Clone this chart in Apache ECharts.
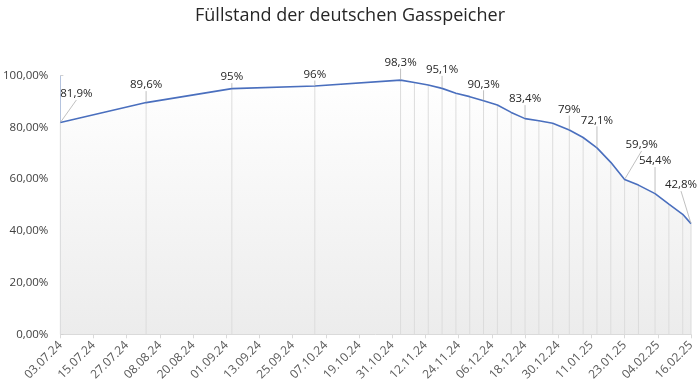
<!DOCTYPE html>
<html>
<head>
<meta charset="utf-8">
<script src="https://cdn.jsdelivr.net/npm/echarts@6/dist/echarts.min.js"></script>
<style>html,body{margin:0;padding:0;background:#fff}#c{width:700px;height:388px}</style>
</head>
<body>
<div id="c"></div>
<script>
// ---- data ----
const dates = ["03.07.24","03.08.24","03.09.24","03.10.24","03.11.24","08.11.24","13.11.24","18.11.24","23.11.24","28.11.24",
  "03.12.24","08.12.24","13.12.24","18.12.24","23.12.24","28.12.24","03.01.25","08.01.25","13.01.25","18.01.25",
  "23.01.25","28.01.25","03.02.25","08.02.25","13.02.25","16.02.25"];
const fillLevel = [81.9,89.6,95.0,96.0,98.3,97.4,96.4,95.1,93.2,91.9,
  90.3,88.7,85.8,83.4,82.6,81.6,79.0,76.1,72.1,66.5,
  59.9,57.7,54.4,50.3,46.4,42.8];
const labelledDates = ["03.07.24","03.08.24","03.09.24","03.10.24","03.11.24","18.11.24","03.12.24","18.12.24","03.01.25","13.01.25","23.01.25","03.02.25","16.02.25"];
const axisStart = "03.07.24";
const axisEnd = "16.02.25";
const yTicks = [0,20,40,60,80,100];
const titleText = "Füllstand der deutschen Gasspeicher";

// ---- layout/style (label displacement) ----
const labelShift = {
  "03.07.24":[16,-29], "03.08.24":[0,-18], "03.09.24":[0,-12], "03.10.24":[0,-12],
  "03.11.24":[0,-18], "18.11.24":[0,-19], "03.12.24":[0,-17], "18.12.24":[0,-20],
  "03.01.25":[0,-21], "13.01.25":[0,-28], "23.01.25":[17,-35], "03.02.25":[0,-33], "16.02.25":[-10,-39]
};

const DAY = 86400000;
function parseD(s){const p=s.split('.');return Date.UTC(2000+ +p[2], +p[1]-1, +p[0]);}
const t0 = parseD(axisStart);
const dayIdx = d => Math.round((parseD(d)-t0)/DAY);
function fmtDay(v){const d=new Date(t0+v*DAY);const pad=n=>String(n).padStart(2,'0');
  return pad(d.getUTCDate())+'.'+pad(d.getUTCMonth()+1)+'.'+String(d.getUTCFullYear()).slice(2);}
const pts = dates.map((d,i)=>[dayIdx(d), fillLevel[i]]);
const fmtPct = v => (Number.isInteger(v)? String(v) : String(v).replace('.',','))+'%';

const chart = echarts.init(document.getElementById('c'), null, {renderer:'canvas'});
const FONT = 'Open Sans';
chart.setOption({
  animation:false,
  backgroundColor:'#ffffff',
  title:{text:titleText,left:'center',top:2,textStyle:{fontFamily:FONT,fontSize:18,fontWeight:'normal',color:'#262626'}},
  grid:{left:58,right:9,top:75.7,bottom:53.7,containLabel:false},
  xAxis:{type:'value',min:0,max:dayIdx(axisEnd),interval:12,
    axisLine:{lineStyle:{color:'#d9d9d9'}},
    axisTick:{show:true,length:4,lineStyle:{color:'#d9d9d9'}},
    splitLine:{show:false},
    axisLabel:{rotate:45,fontFamily:FONT,fontSize:12,color:'#595959',margin:9,formatter:fmtDay}},
  yAxis:{type:'value',min:yTicks[0],max:yTicks[yTicks.length-1],interval:20,
    axisLine:{show:true,lineStyle:{color:'#b4c3de'}},
    axisTick:{show:true,inside:true,length:3,lineStyle:{color:'#d0d0d0'}},
    splitLine:{show:false},
    axisLabel:{fontFamily:FONT,fontSize:11.5,color:'#404040',margin:12,
      formatter:v=>v.toFixed(2).replace('.',',')+'%'}},
  series:[
    {type:'line',data:pts,symbol:'none',z:1,silent:true,
      lineStyle:{width:0},
      areaStyle:{opacity:1,color:new echarts.graphic.LinearGradient(0,0,0,1,[{offset:0,color:'#ffffff'},{offset:1,color:'#ececec'}])}},
    {type:'bar',data:pts,barWidth:1,z:2,silent:true,itemStyle:{color:'#dcdcdc'}},
    {type:'line',data:pts,symbol:'circle',symbolSize:1,showSymbol:true,showAllSymbol:true,z:3,
      itemStyle:{color:'rgba(0,0,0,0)'},
      lineStyle:{color:'#4a6fbe',width:1.6},
      label:{show:true,position:'top',distance:0,fontFamily:FONT,fontSize:11.5,color:'#262626',
        formatter:p=> labelledDates.includes(dates[p.dataIndex]) ? fmtPct(fillLevel[p.dataIndex]) : ''},
      labelLine:{show:true,smooth:false,lineStyle:{color:'#b0b0b0',width:0.8}},
      labelLayout:function(p){
        const s = labelShift[dates[p.dataIndex]];
        if(!s) return {};
        return {dx:s[0],dy:s[1]+7};
      }}
  ]
});
</script>
</body>
</html>
